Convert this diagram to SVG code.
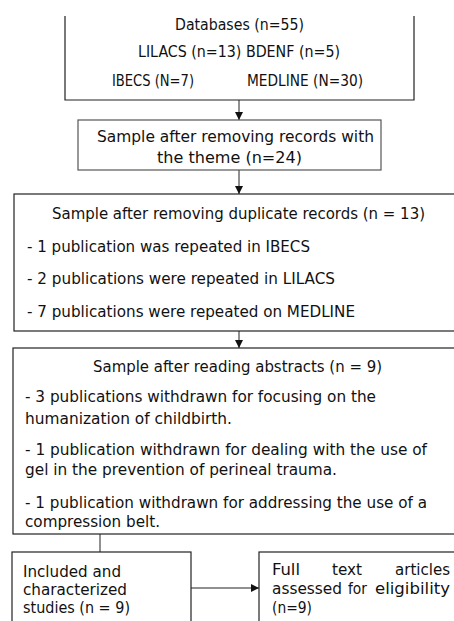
<svg xmlns="http://www.w3.org/2000/svg" width="454" height="621" viewBox="0 0 454 621">
<style>
.box{fill:#fff;stroke:#222;stroke-width:1.2}
.box2{fill:#fff;stroke:#555;stroke-width:1.2}
.t{font-family:"DejaVu Sans Condensed","DejaVu Sans",sans-serif;font-size:16.5px;fill:#111}
.ln{stroke:#222;stroke-width:1;fill:none}
</style>
<defs>
<marker id="ah" viewBox="0 0 10 10" refX="10" refY="5" markerWidth="8" markerHeight="8" markerUnits="userSpaceOnUse" orient="auto">
<path d="M0,0 L10,5 L0,10 z" fill="#111"/>
</marker>
</defs>
<rect width="454" height="621" fill="#fff"/>
<g id="connectors">
<line class="ln" x1="239" y1="100" x2="239" y2="120" marker-end="url(#ah)"/>
<line class="ln" x1="239" y1="170" x2="239" y2="194" marker-end="url(#ah)"/>
<line class="ln" x1="239" y1="331" x2="239" y2="348" marker-end="url(#ah)"/>
<line class="ln" x1="100" y1="534" x2="100" y2="552"/>
<line class="ln" x1="191" y1="588" x2="259" y2="588" marker-end="url(#ah)"/>
</g>
<g id="databases">
<path class="box" d="M65,16 V100 H414 V16"/>
<text class="t" x="175" y="30" textLength="129" lengthAdjust="spacingAndGlyphs">Databases (n=55)</text>
<text class="t" x="138" y="57" textLength="202" lengthAdjust="spacingAndGlyphs">LILACS (n=13) BDENF (n=5)</text>
<text class="t" x="112" y="86" textLength="82" lengthAdjust="spacingAndGlyphs">IBECS (N=7)</text>
<text class="t" x="247" y="86" textLength="116" lengthAdjust="spacingAndGlyphs">MEDLINE (N=30)</text>
</g>
<g id="sample-theme">
<rect class="box2" x="78" y="120" width="303" height="50"/>
<text class="t" x="97" y="142" textLength="277" lengthAdjust="spacingAndGlyphs">Sample after removing records with</text>
<text class="t" x="157" y="163" textLength="145" lengthAdjust="spacingAndGlyphs">the theme (n=24)</text>
</g>
<g id="sample-duplicates">
<rect class="box" x="14" y="194" width="460" height="137"/>
<text class="t" x="52" y="219" textLength="373" lengthAdjust="spacingAndGlyphs">Sample after removing duplicate records (n = 13)</text>
<text class="t" x="27" y="252" textLength="283" lengthAdjust="spacingAndGlyphs">- 1 publication was repeated in IBECS</text>
<text class="t" x="27" y="284" textLength="308" lengthAdjust="spacingAndGlyphs">- 2 publications were repeated in LILACS</text>
<text class="t" x="27" y="317" textLength="328" lengthAdjust="spacingAndGlyphs">- 7 publications were repeated on MEDLINE</text>
</g>
<g id="sample-abstracts">
<rect class="box" x="13" y="348" width="460" height="186"/>
<text class="t" x="93" y="372" textLength="289" lengthAdjust="spacingAndGlyphs">Sample after reading abstracts (n = 9)</text>
<text class="t" x="25" y="402" textLength="351" lengthAdjust="spacingAndGlyphs">- 3 publications withdrawn for focusing on the</text>
<text class="t" x="25" y="424" textLength="207" lengthAdjust="spacingAndGlyphs">humanization of childbirth.</text>
<text class="t" x="25" y="455" textLength="402" lengthAdjust="spacingAndGlyphs">- 1 publication withdrawn for dealing with the use of</text>
<text class="t" x="25" y="475" textLength="312" lengthAdjust="spacingAndGlyphs">gel in the prevention of perineal trauma.</text>
<text class="t" x="25" y="508" textLength="402" lengthAdjust="spacingAndGlyphs">- 1 publication withdrawn for addressing the use of a</text>
<text class="t" x="25" y="527" textLength="135" lengthAdjust="spacingAndGlyphs">compression belt.</text>
</g>
<g id="included">
<rect class="box" x="12" y="552" width="179" height="80"/>
<text class="t" x="23" y="577" textLength="98" lengthAdjust="spacingAndGlyphs">Included and</text>
<text class="t" x="23" y="595" textLength="104" lengthAdjust="spacingAndGlyphs">characterized</text>
<text class="t" x="23" y="613" textLength="107" lengthAdjust="spacingAndGlyphs">studies (n = 9)</text>
</g>
<g id="full-text">
<rect class="box" x="259" y="552" width="220" height="80"/>
<text class="t" x="272" y="575" textLength="28" lengthAdjust="spacingAndGlyphs">Full</text>
<text class="t" x="332" y="575" textLength="30" lengthAdjust="spacingAndGlyphs">text</text>
<text class="t" x="395" y="575" textLength="55" lengthAdjust="spacingAndGlyphs">articles</text>
<text class="t" x="272" y="594" textLength="70" lengthAdjust="spacingAndGlyphs">assessed</text>
<text class="t" x="348" y="594" textLength="19" lengthAdjust="spacingAndGlyphs">for</text>
<text class="t" x="375" y="594" textLength="75" lengthAdjust="spacingAndGlyphs">eligibility</text>
<text class="t" x="272" y="613" textLength="40" lengthAdjust="spacingAndGlyphs">(n=9)</text>
</g>
</svg>
